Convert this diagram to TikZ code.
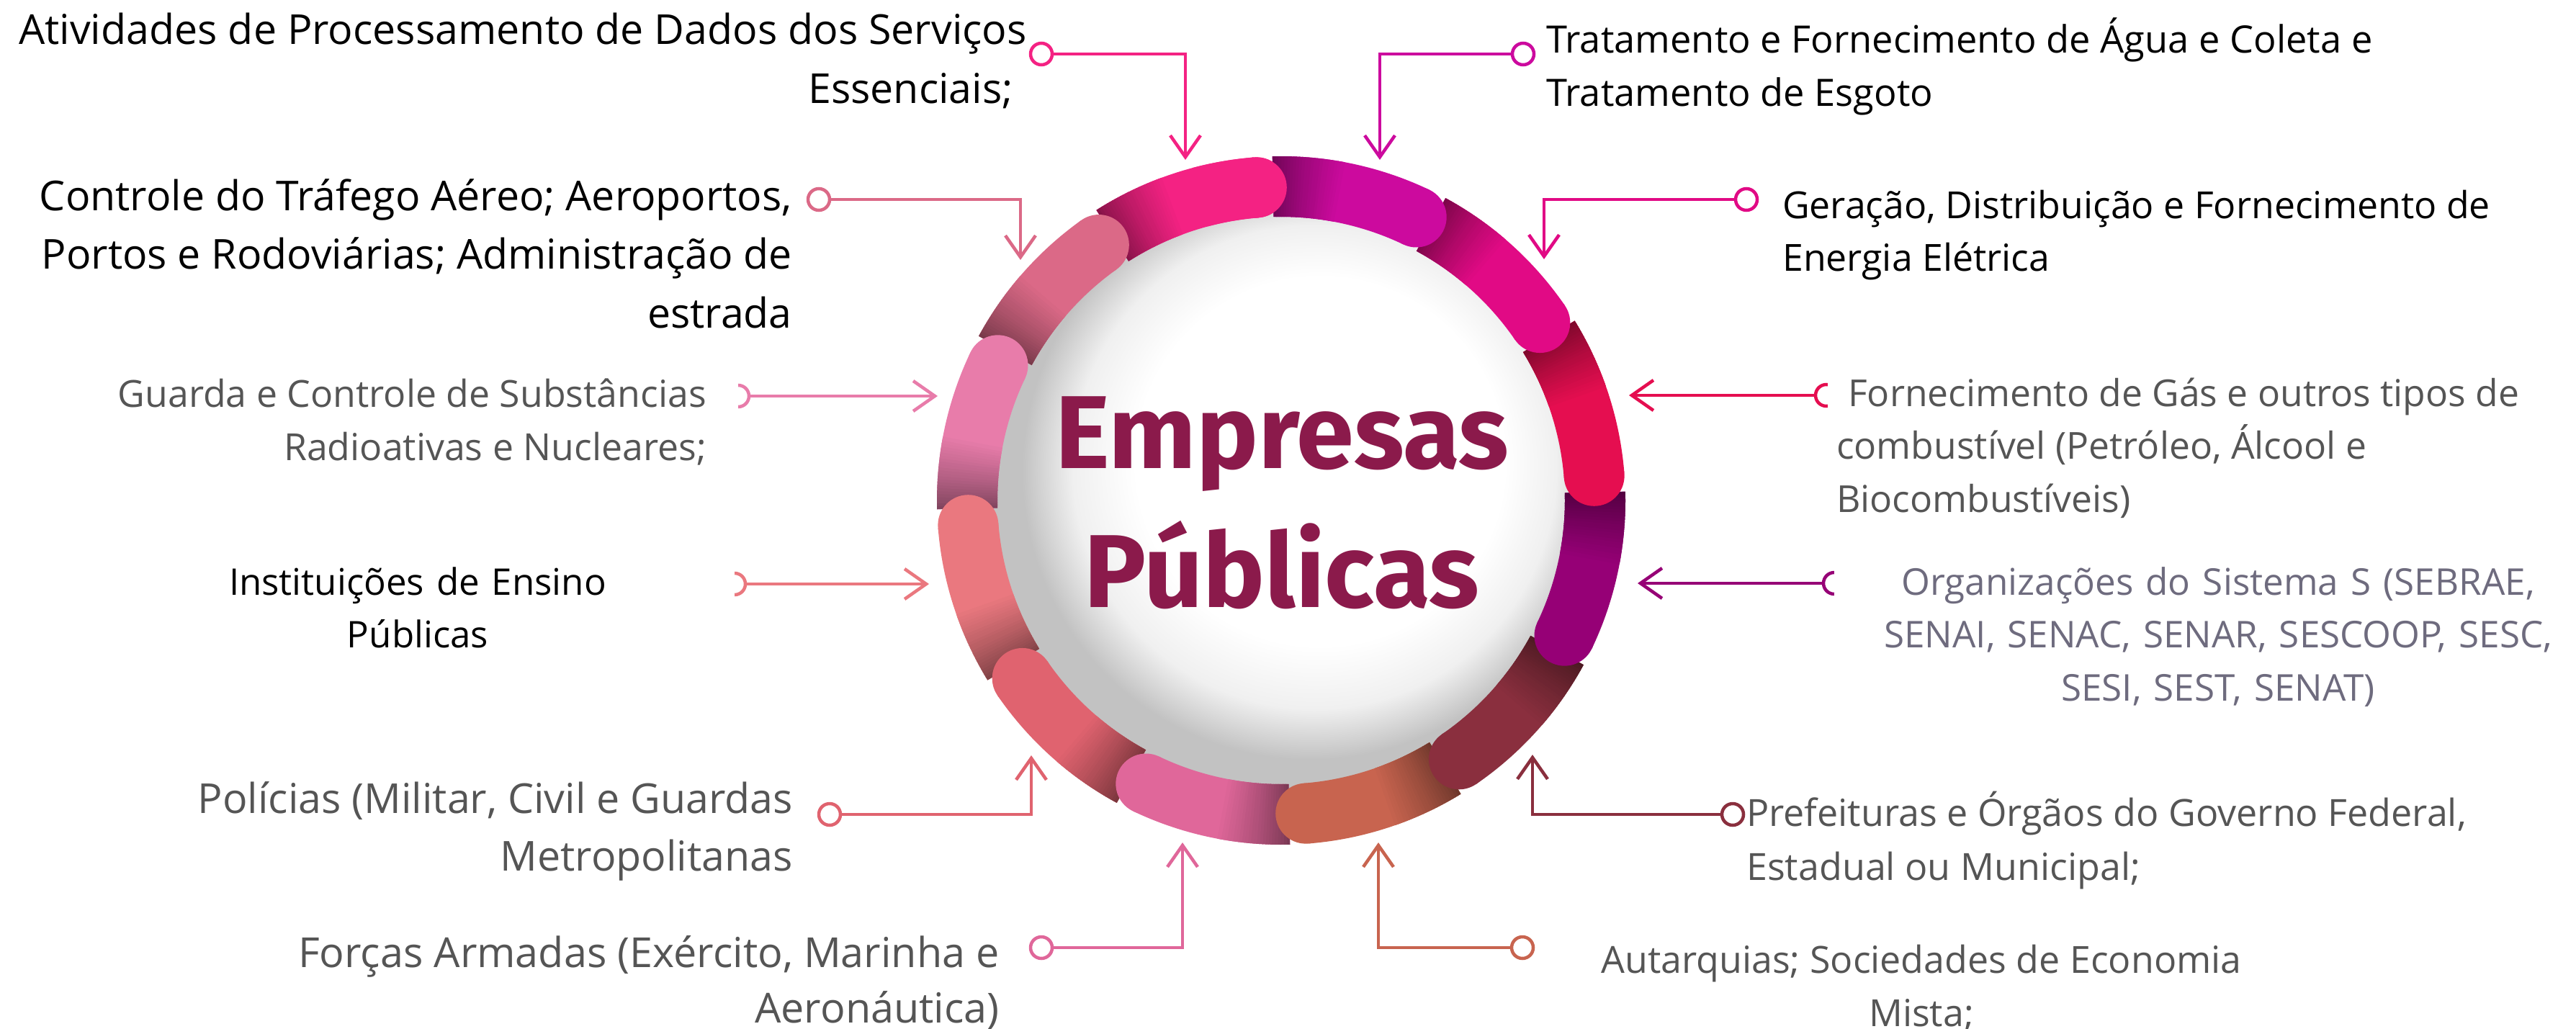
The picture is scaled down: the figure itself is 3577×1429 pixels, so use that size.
\documentclass[tikz,border=0pt]{standalone}
\usepackage{fontspec}
\setmainfont{Open Sans}
\newfontfamily\titlefont{Fira Sans}
\usetikzlibrary{arrows.meta}
\definecolor{cA}{HTML}{CC0A9E}
\definecolor{cB}{HTML}{E10A85}
\definecolor{cC}{HTML}{E50E50}
\definecolor{cD}{HTML}{960076}
\definecolor{cE}{HTML}{8A2F3E}
\definecolor{cF}{HTML}{C8644F}
\definecolor{cG}{HTML}{E0679A}
\definecolor{cH}{HTML}{E0636F}
\definecolor{cI}{HTML}{EA787F}
\definecolor{cJ}{HTML}{E87CAA}
\definecolor{cK}{HTML}{DB6987}
\definecolor{cL}{HTML}{F42283}
\definecolor{titlecol}{HTML}{8B1A4B}
\definecolor{txtgray}{HTML}{555555}
\definecolor{txtblue}{HTML}{6E6B7E}
\pgfdeclareradialshading{ballshade}{\pgfpoint{5bp}{5bp}}{color(0bp)=(white); color(16bp)=(white); color(21bp)=(black!6); color(25bp)=(black!24); color(50bp)=(black!24)}
\newcommand{\ringseg}[3]{%
  \draw[line width=84pt,#1] ([shift={(#2:436)}]ctr) arc[start angle=#2,end angle=#3,radius=436];
  \fill[#1] ([shift={(#3:436)}]ctr) circle (42);
  \foreach \i in {0,...,23}{%
    \pgfmathsetmacro\aa{#2+\i*0.5}%
    \pgfmathsetmacro\bb{#2+\i*0.5+0.7}%
    \pgfmathtruncatemacro\mx{55+45*(\i/24)^0.8}%
    \draw[line width=84pt,#1!\mx!black] ([shift={(\aa:436)}]ctr) arc[start angle=\aa,end angle=\bb,radius=436];
  }}
\tikzset{
  conn/.style={line width=4.5pt,-{Straight Barb[length=30pt,width=42pt]}},
  dot/.style={circle,draw=#1,line width=4.5pt,minimum size=30pt,inner sep=0pt,fill=white},
  lbl/.style 2 args={font=\fontsize{#1}{#2}\selectfont,inner sep=0pt},
}
\begin{document}
\begin{tikzpicture}[x=1pt,y=-1pt]
\useasboundingbox (0,0) rectangle (3577,1429);
\fill[white] (0,0) rectangle (3577,1429);
\coordinate (ctr) at (1779,695);
\shade[shading=ballshade] (ctr) circle (400);
% ring segments
\ringseg{cL}{237.5}{265.5}
\ringseg{cK}{208.5}{234.5}
\ringseg{cJ}{178.5}{205.5}
\ringseg{cI}{148.5}{175.5}
\ringseg{cH}{118.5}{145.5}
\ringseg{cG}{88.5}{115.5}
\ringseg{cF}{58.5}{85.5}
\ringseg{cE}{28.5}{55.5}
\ringseg{cD}{-1.5}{25.5}
\ringseg{cC}{-31.5}{-4.5}
\ringseg{cB}{-61.5}{-34.5}
\ringseg{cA}{-91.5}{-64.5}
\draw[line width=84pt,cL] ([shift={(255:436)}]ctr) arc[start angle=255,end angle=265.5,radius=436];
\fill[cL] ([shift={(265.5:436)}]ctr) circle (42);
% title
\node[font=\titlefont\bfseries\fontsize{144}{193}\selectfont,text=titlecol,align=center,inner sep=0pt,anchor=base] (title) at (1780,843) {Empresas\\Públicas};
% connectors
\node[dot=cL] (c1) at (1446,75) {};
\coordinate (t1) at (1646,222);
\draw[conn,cL] (c1) -| (t1);
\node[dot=cA] (c2) at (2115,75) {};
\coordinate (t2) at (1916,222);
\draw[conn,cA] (c2) -| (t2);
\node[dot=cK] (c3) at (1137,277) {};
\coordinate (t3) at (1417,361);
\draw[conn,cK] (c3) -| (t3);
\node[dot=cB] (c4) at (2425,277) {};
\coordinate (t4) at (2144,360);
\draw[conn,cB] (c4) -| (t4);
\node[dot=cC] (c5) at (2536,549) {};
\coordinate (t5) at (2262,549);
\draw[conn,cC] (c5) -- (t5);
\node[dot=cD] (c6) at (2547,810) {};
\coordinate (t6) at (2274,810);
\draw[conn,cD] (c6) -- (t6);
\node[dot=cE] (c7) at (2406,1131) {};
\coordinate (t7) at (2128,1048);
\draw[conn,cE] (c7) -| (t7);
\node[dot=cF] (c8) at (2114,1316) {};
\coordinate (t8) at (1914,1170);
\draw[conn,cF] (c8) -| (t8);
\node[dot=cG] (c9) at (1446,1316) {};
\coordinate (t9) at (1642,1170);
\draw[conn,cG] (c9) -| (t9);
\node[dot=cH] (c10) at (1152,1131) {};
\coordinate (t10) at (1432,1049);
\draw[conn,cH] (c10) -| (t10);
\node[dot=cI] (c11) at (1020,811) {};
\coordinate (t11) at (1290,811);
\draw[conn,cI] (c11) -- (t11);
\node[dot=cJ] (c12) at (1025,550) {};
\coordinate (t12) at (1302,550);
\draw[conn,cJ] (c12) -- (t12);
% labels
\node[lbl={57.3}{82},align=right,anchor=base east] (l1) at (1426,143) {Atividades de Processamento de Dados dos Serviços\\Essenciais;\hspace*{19pt}};
\node[lbl={52.4}{74},align=left,anchor=base west] (l2) at (2147,147) {Tratamento e Fornecimento de Água e Coleta e\\Tratamento de Esgoto};
\node[lbl={57.2}{81.5},align=right,anchor=base east] (l3) at (1100,455) {Controle do Tráfego Aéreo; Aeroportos,\\Portos e Rodoviárias; Administração de\\estrada};
\node[lbl={51.8}{73},align=left,anchor=base west] (l4) at (2475,376) {Geração, Distribuição e Fornecimento de\\Energia Elétrica};
\node[lbl={51.6}{73.5},align=left,anchor=base west,text=txtgray,fill=white,inner xsep=12pt] (l5) at (2538,711) {\hspace*{16pt}Fornecimento de Gás e outros tipos de\\combustível (Petróleo, Álcool e\\Biocombustíveis)};
\node[lbl={51.2}{73.5},align=center,anchor=base,text=txtblue,fill=white,text width=1066pt] (l6) at (3080,826) {Organizações do Sistema S (SEBRAE,\\SENAI, SENAC, SENAR, SESCOOP, SESC,\\SESI, SEST, SENAT)};
\node[lbl={52}{75},align=left,anchor=base west,text=txtgray] (l7) at (2425,1222) {Prefeituras e Órgãos do Governo Federal,\\Estadual ou Municipal;};
\node[lbl={51.9}{74},align=center,anchor=base,text=txtgray] (l8) at (2668,1425) {Autarquias; Sociedades de Economia\\Mista;};
\node[lbl={57.5}{77},align=right,anchor=base east,text=txtgray] (l9) at (1388,1420) {Forças Armadas (Exército, Marinha e\\Aeronáutica)};
\node[lbl={57.3}{80},align=right,anchor=base east,text=txtgray] (l10) at (1101,1209) {Polícias (Militar, Civil e Guardas\\Metropolitanas};
\node[lbl={51}{73},align=center,anchor=base,fill=white,text width=880pt] (l11) at (580,826) {Instituições de Ensino\\Públicas};
\node[lbl={51.8}{74},align=right,anchor=base east,text=txtgray,fill=white,inner xsep=44pt] (l12) at (1025,639) {Guarda e Controle de Substâncias\\Radioativas e Nucleares;};
\end{tikzpicture}
\end{document}
